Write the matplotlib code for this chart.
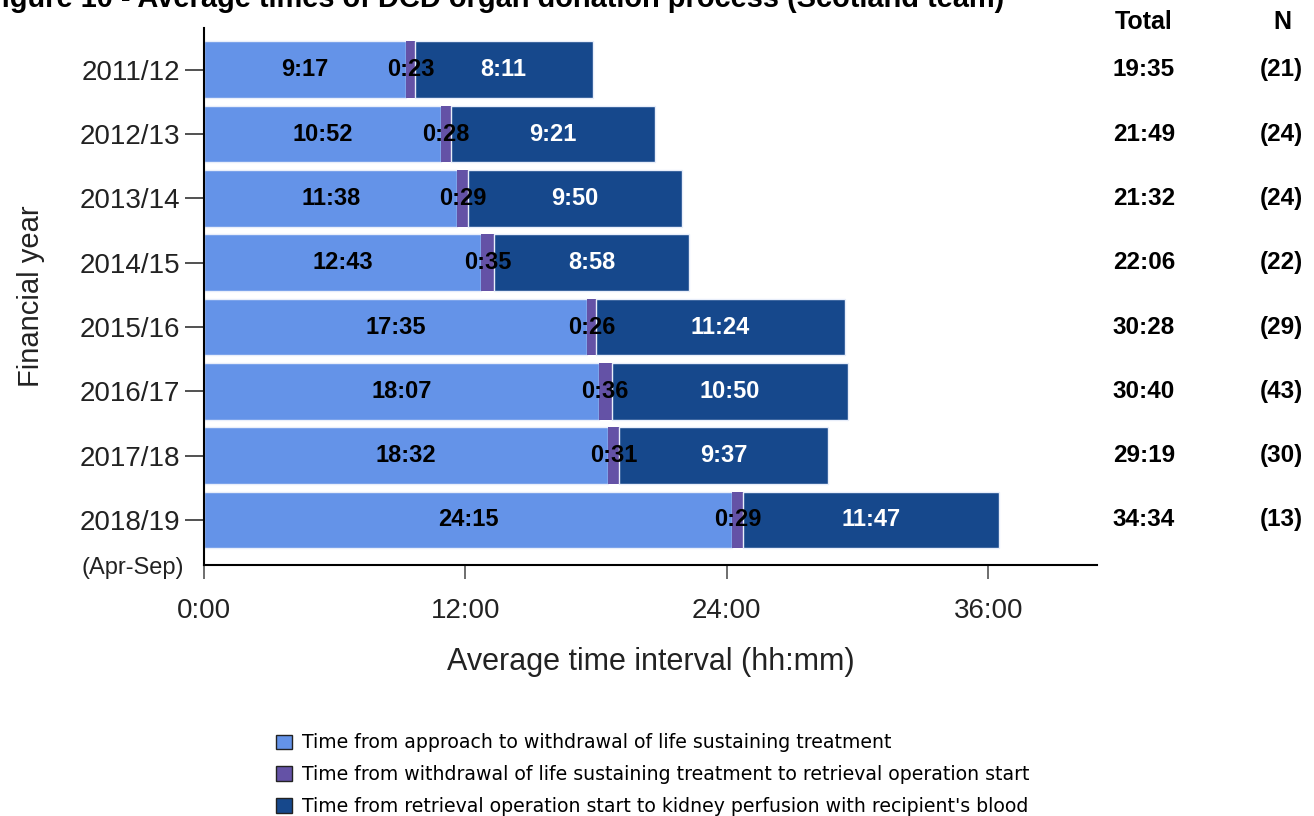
import numpy as np
import matplotlib
matplotlib.use('Agg')
import matplotlib.pyplot as plt
from matplotlib.patches import Patch

plt.rcParams['font.family'] = ['Liberation Sans', 'DejaVu Sans']

# data (hh:mm)
years = ['2011/12', '2012/13', '2013/14', '2014/15', '2015/16', '2016/17', '2017/18', '2018/19']
approach = ['9:17', '10:52', '11:38', '12:43', '17:35', '18:07', '18:32', '24:15']
withdrawal = ['0:23', '0:28', '0:29', '0:35', '0:26', '0:36', '0:31', '0:29']
retrieval = ['8:11', '9:21', '9:50', '8:58', '11:24', '10:50', '9:37', '11:47']
totals = ['19:35', '21:49', '21:32', '22:06', '30:28', '30:40', '29:19', '34:34']
n_cases = [21, 24, 24, 22, 29, 43, 30, 13]
xticks = [0, 12, 24, 36]

legend_labels = ['Time from approach to withdrawal of life sustaining treatment',
                 'Time from withdrawal of life sustaining treatment to retrieval operation start',
                 "Time from retrieval operation start to kidney perfusion with recipient's blood"]
colors = ['#6493E8', '#6452A6', '#16488C']


def to_hours(s):
    h, m = s.split(':')
    return int(h) + int(m) / 60


a = np.array([to_hours(s) for s in approach])
w = np.array([to_hours(s) for s in withdrawal])
r = np.array([to_hours(s) for s in retrieval])
y = np.arange(len(years))

fig = plt.figure(figsize=(13.14, 8.16), dpi=100)
ax = fig.add_axes([0.1553, 0.3076, 0.6796, 0.6581])

h = 0.88
ax.barh(y, a, height=h, color=colors[0], edgecolor='#e8eefa', linewidth=1)
ax.barh(y, w, left=a, height=h, color=colors[1], edgecolor='none')
ax.barh(y, r, left=a + w, height=h, color=colors[2], edgecolor='#e8eefa', linewidth=1)

for i in range(len(years)):
    ax.text(a[i] / 2, y[i], approach[i], ha='center', va='center',
            fontsize=17, fontweight='bold', color='black')
    ax.text(a[i] + w[i] / 2, y[i], withdrawal[i], ha='center', va='center',
            fontsize=17, fontweight='bold', color='black')
    ax.text(a[i] + w[i] + r[i] / 2, y[i], retrieval[i], ha='center', va='center',
            fontsize=17, fontweight='bold', color='white')

ax.set_xlim(0, 41)
ax.set_ylim(7.7, -0.65)
ax.set_yticks(y)
ax.set_yticklabels(years, fontsize=20, color='#222222')
ax.set_xticks(xticks)
ax.set_xticklabels(['%d:00' % t for t in xticks], fontsize=20, color='#222222')
ax.tick_params(axis='y', length=14, width=1.2, color='#333333', pad=3)
ax.tick_params(axis='x', length=10, width=1.2, color='#555555', pad=14)
ax.spines['top'].set_visible(False)
ax.spines['right'].set_visible(False)
ax.spines['left'].set_linewidth(1.5)
ax.spines['bottom'].set_linewidth(1.5)
ax.text(-0.022, 7.75, '(Apr-Sep)', transform=ax.get_yaxis_transform(),
        ha='right', va='center', fontsize=17, color='#222222')

ax.set_ylabel('Financial year', fontsize=21, color='#222222', labelpad=25)
ax.set_xlabel('Average time interval (hh:mm)', fontsize=22, color='#222222', labelpad=16)

# right hand columns
fig.text(1144 / 1314, 1 - 22 / 816, 'Total', ha='center', va='center', fontsize=18, fontweight='bold')
fig.text(1282 / 1314, 1 - 22 / 816, 'N', ha='center', va='center', fontsize=18, fontweight='bold')
for i in range(len(years)):
    yf = fig.transFigure.inverted().transform(ax.transData.transform((0, y[i])))[1]
    fig.text(1144 / 1314, yf, totals[i], ha='center', va='center', fontsize=17.5, fontweight='bold')
    fig.text(1281 / 1314, yf, '(%d)' % n_cases[i], ha='center', va='center', fontsize=17.5, fontweight='bold')

# title, cut off at the top as in the original
fig.text(-16 / 1314, 1 - 7 / 816, 'Figure 10 - Average times of DCD organ donation process (Scotland team)',
         ha='left', va='baseline', fontsize=20.9, fontweight='bold')

handles = [Patch(facecolor=c, edgecolor='#222222', linewidth=1) for c in colors]
fig.legend(handles, legend_labels, loc='upper left', bbox_to_anchor=(267 / 1314, 1 - 724 / 816),
           frameon=False, handlelength=0.8, handleheight=0.8, handletextpad=0.55,
           labelspacing=0.68, borderpad=0, prop={'family': 'DejaVu Sans', 'size': 13.6})

fig.savefig('out.png', dpi=100)
